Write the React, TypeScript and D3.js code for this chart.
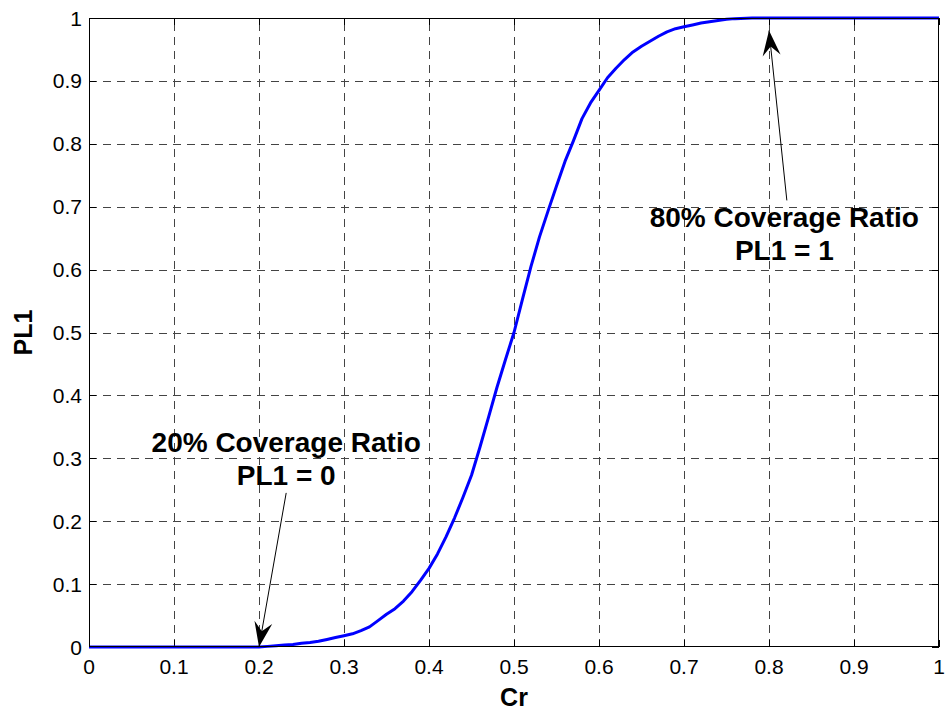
import React from "react";
import * as d3 from "d3";

// Coverage ratio (Cr) and probability level PL1
const crValues = [
  0, 0.1, 0.2, 0.21, 0.22, 0.23, 0.24, 0.25, 0.26, 0.27, 0.28, 0.29, 0.3, 0.31, 0.32, 0.33, 0.34,
  0.35, 0.36, 0.37, 0.38, 0.39, 0.4, 0.41, 0.42, 0.43, 0.44, 0.45, 0.46, 0.47, 0.48, 0.49, 0.5,
  0.51, 0.52, 0.53, 0.54, 0.55, 0.56, 0.57, 0.58, 0.59, 0.6, 0.61, 0.62, 0.63, 0.64, 0.65, 0.66,
  0.67, 0.68, 0.69, 0.7, 0.71, 0.72, 0.73, 0.74, 0.75, 0.76, 0.78, 0.8, 0.9, 1,
];
const pl1Values = [
  0, 0, 0, 0.001, 0.002, 0.003, 0.004, 0.006, 0.007, 0.009, 0.012, 0.015, 0.018, 0.021, 0.026,
  0.032, 0.042, 0.052, 0.061, 0.073, 0.088, 0.106, 0.125, 0.148, 0.175, 0.205, 0.238, 0.273,
  0.318, 0.365, 0.413, 0.457, 0.5, 0.553, 0.605, 0.652, 0.693, 0.733, 0.772, 0.805, 0.84, 0.865,
  0.885, 0.905, 0.92, 0.934, 0.946, 0.955, 0.963, 0.971, 0.978, 0.983, 0.986, 0.989, 0.992,
  0.994, 0.996, 0.998, 0.999, 1, 1, 1, 1,
];

const xTicks = [0, 0.1, 0.2, 0.3, 0.4, 0.5, 0.6, 0.7, 0.8, 0.9, 1];
const yTicks = [0, 0.1, 0.2, 0.3, 0.4, 0.5, 0.6, 0.7, 0.8, 0.9, 1];

// Annotation text and the data points the arrows point at
const annotations = [
  { lines: ["20% Coverage Ratio", "PL1 = 0"], target: [0.2, 0], anchor: [0.232, 0.245], textAt: [0.232, 0.31] },
  { lines: ["80% Coverage Ratio", "PL1 = 1"], target: [0.8, 0.98], anchor: [0.821, 0.71], textAt: [0.818, 0.668] },
];

const W = 946;
const H = 713;
const M = { left: 89, right: 7, top: 18, bottom: 66 };

export default function App() {
  const x = d3.scaleLinear().domain([0, 1]).range([M.left, W - M.right]);
  const y = d3.scaleLinear().domain([0, 1]).range([H - M.bottom, M.top]);
  const pts: [number, number][] = crValues.map((c, i) => [c, pl1Values[i]]);
  const line = d3
    .line<[number, number]>()
    .x((d) => x(d[0]))
    .y((d) => y(d[1]));

  const font = "Arial, 'Liberation Sans', Helvetica, sans-serif";
  const x0 = x(0), x1 = x(1), y0 = y(0), y1 = y(1);
  const tick = 7;

  const arrowHead = (tx: number, ty: number, fx: number, fy: number) => {
    const ang = Math.atan2(fy - ty, fx - tx);
    const len = 25, half = 9, notch = 16;
    const ux = Math.cos(ang), uy = Math.sin(ang);
    const px = -uy, py = ux;
    const b1 = [tx + ux * len + px * half, ty + uy * len + py * half];
    const b2 = [tx + ux * len - px * half, ty + uy * len - py * half];
    const n = [tx + ux * notch, ty + uy * notch];
    return `M${tx},${ty}L${b1[0]},${b1[1]}L${n[0]},${n[1]}L${b2[0]},${b2[1]}Z`;
  };

  return (
    <svg
      width={W}
      height={H}
      style={{ position: "absolute", left: 0, top: 0, background: "#fff" }}
      fontFamily={font}
    >
      <rect x={0} y={0} width={W} height={H} fill="#fff" />
      {/* grid */}
      <g stroke="#444" strokeWidth={1} strokeDasharray="8,6">
        {xTicks.filter((t) => t > 0 && t < 1).map((t) => (
          <line key={"gx" + t} x1={Math.round(x(t)) + 0.5} x2={Math.round(x(t)) + 0.5} y1={y0} y2={y1} />
        ))}
        {yTicks.filter((t) => t > 0 && t < 1).map((t) => (
          <line key={"gy" + t} y1={Math.round(y(t)) + 0.5} y2={Math.round(y(t)) + 0.5} x1={x0} x2={x1} />
        ))}
      </g>
      {/* ticks on all four sides */}
      <g stroke="#000" strokeWidth={1}>
        {xTicks.map((t) => {
          const px = Math.round(x(t)) + 0.5;
          return (
            <g key={"tx" + t}>
              <line x1={px} x2={px} y1={y0} y2={y0 - tick} />
              <line x1={px} x2={px} y1={y1} y2={y1 + tick} />
            </g>
          );
        })}
        {yTicks.map((t) => {
          const py = Math.round(y(t)) + 0.5;
          return (
            <g key={"ty" + t}>
              <line x1={x0} x2={x0 + tick} y1={py} y2={py} />
              <line x1={x1} x2={x1 - tick} y1={py} y2={py} />
            </g>
          );
        })}
      </g>
      {/* data line */}
      <path d={line(pts) || ""} fill="none" stroke="#0000ff" strokeWidth={3} strokeLinejoin="round" />
      {/* axes box */}
      <rect x={x0 + 0.5} y={y1 + 0.5} width={x1 - x0 - 1} height={y0 - y1 - 1} fill="none" stroke="#000" strokeWidth={1} />
      {/* tick labels */}
      <g fontSize={21} fill="#000">
        {xTicks.map((t) => (
          <text key={"lx" + t} x={x(t)} y={y0 + 27} textAnchor="middle">
            {d3.format("~g")(t)}
          </text>
        ))}
        {yTicks.map((t) => (
          <text key={"ly" + t} x={x0 - 7} y={y(t) + 7.5} textAnchor="end">
            {d3.format("~g")(t)}
          </text>
        ))}
      </g>
      {/* axis titles */}
      <text x={(x0 + x1) / 2} y={706} textAnchor="middle" fontSize={25} fontWeight="bold">
        Cr
      </text>
      <text
        transform={`translate(32,${(y0 + y1) / 2}) rotate(-90)`}
        textAnchor="middle"
        fontSize={25}
        fontWeight="bold"
      >
        PL1
      </text>
      {/* annotations */}
      {annotations.map((a, i) => {
        const tx = x(a.target[0]);
        const ty = y(a.target[1]);
        const fx = x(a.anchor[0]);
        const fy = y(a.anchor[1]);
        return (
          <g key={"ann" + i}>
            <line x1={fx} y1={fy} x2={tx} y2={ty} stroke="#000" strokeWidth={1} />
            <path d={arrowHead(tx, ty, fx, fy)} fill="#000" />
            {a.lines.map((s, j) => (
              <text
                key={j}
                x={x(a.textAt[0])}
                y={y(a.textAt[1]) + j * 33}
                textAnchor="middle"
                fontSize={28}
                fontWeight="bold"
              >
                {s}
              </text>
            ))}
          </g>
        );
      })}
    </svg>
  );
}
